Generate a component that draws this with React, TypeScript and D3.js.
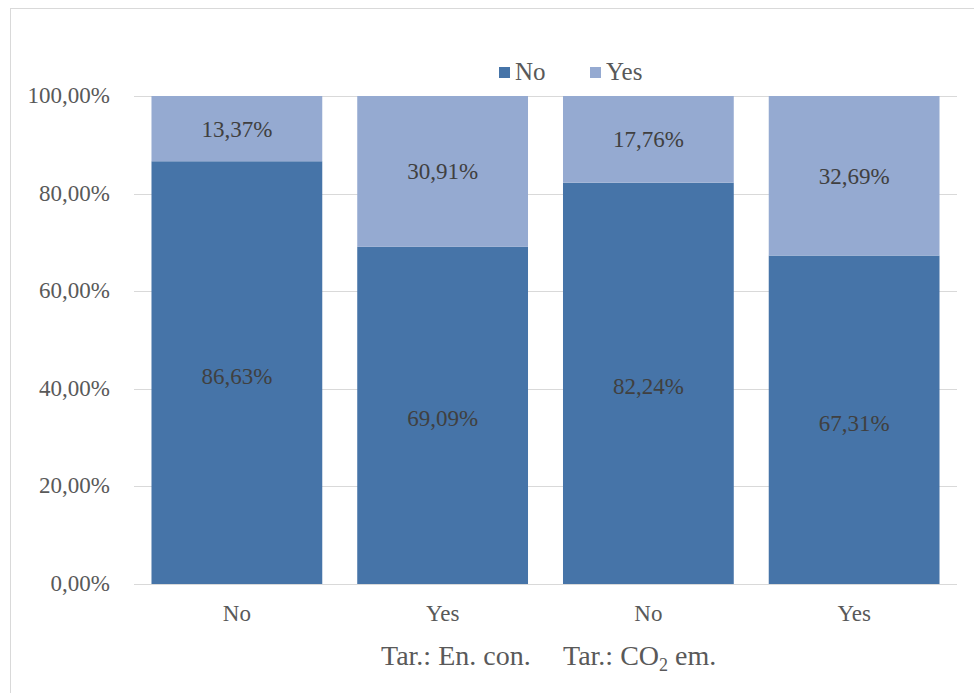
import * as d3 from "d3";
import { useEffect, useRef } from "react";

const categories = ["No", "Yes", "No", "Yes"];
const noValues = [86.63, 69.09, 82.24, 67.31];
const yesValues = [13.37, 30.91, 17.76, 32.69];
const yTicks = [0, 20, 40, 60, 80, 100];
const groupLabels = ["Tar.: En. con.", "Tar.: CO"];

const W = 974;
const H = 693;
const FONT = "'Liberation Serif', 'Times New Roman', serif";
const FS = 23;

const fmt = (v: number) => v.toFixed(2).replace(".", ",") + "%";

function App() {
  const ref = useRef<SVGSVGElement>(null);

  useEffect(() => {
    const svg = d3.select(ref.current);
    svg.selectAll("*").remove();

    const margin = { left: 134, right: 17, top: 96, bottom: 109 };

    // chart frame
    svg.append("rect")
      .attr("x", 10.5).attr("y", 8.5)
      .attr("width", W - 10).attr("height", H - 8)
      .attr("fill", "#fff").attr("stroke", "#d9d9d9");

    const x = d3.scaleBand<number>()
      .domain(categories.map((_, i) => i))
      .range([margin.left, W - margin.right])
      .paddingInner(0.17)
      .paddingOuter(0.085);

    const y = d3.scaleLinear().domain([0, 100]).range([H - margin.bottom, margin.top]);

    const g = svg.append("g");

    g.selectAll("line.grid")
      .data(yTicks)
      .enter()
      .append("line")
      .attr("x1", margin.left).attr("x2", W - margin.right)
      .attr("y1", (d) => Math.round(y(d)) + 0.5).attr("y2", (d) => Math.round(y(d)) + 0.5)
      .attr("stroke", "#d9d9d9").attr("stroke-width", 1);

    g.selectAll("text.ytick")
      .data(yTicks)
      .enter()
      .append("text")
      .attr("x", 110)
      .attr("y", (d) => y(d) + 7)
      .attr("text-anchor", "end")
      .attr("font-family", FONT).attr("font-size", FS).attr("fill", "#595959")
      .text((d) => d.toFixed(2).replace(".", ",") + "%");

    const stacked = categories.map((_, i) => ({ i, no: noValues[i], yes: yesValues[i] }));

    // No segment
    g.selectAll("rect.no")
      .data(stacked)
      .enter()
      .append("rect")
      .attr("x", (d) => x(d.i)!)
      .attr("width", x.bandwidth())
      .attr("y", (d) => y(d.no))
      .attr("height", (d) => y(0) - y(d.no))
      .attr("fill", "#4674a8");

    // Yes segment
    g.selectAll("rect.yes")
      .data(stacked)
      .enter()
      .append("rect")
      .attr("x", (d) => x(d.i)!)
      .attr("width", x.bandwidth())
      .attr("y", (d) => y(d.no + d.yes))
      .attr("height", (d) => y(d.no) - y(d.no + d.yes))
      .attr("fill", "#95aad1");

    const labelStyle = (sel: any) =>
      sel.attr("text-anchor", "middle")
        .attr("font-family", FONT).attr("font-size", FS).attr("fill", "#404040");

    g.selectAll("text.nolab")
      .data(stacked)
      .enter()
      .append("text")
      .attr("x", (d) => x(d.i)! + x.bandwidth() / 2)
      .attr("y", (d) => (y(0) + y(d.no)) / 2 + 11)
      .call(labelStyle)
      .text((d) => fmt(d.no));

    g.selectAll("text.yeslab")
      .data(stacked)
      .enter()
      .append("text")
      .attr("x", (d) => x(d.i)! + x.bandwidth() / 2)
      .attr("y", (d) => (y(d.no) + y(d.no + d.yes)) / 2 + 8)
      .call(labelStyle)
      .text((d) => fmt(d.yes));

    // x category labels
    g.selectAll("text.xcat")
      .data(categories)
      .enter()
      .append("text")
      .attr("x", (_, i) => x(i)! + x.bandwidth() / 2)
      .attr("y", 621)
      .attr("text-anchor", "middle")
      .attr("font-family", FONT).attr("font-size", FS).attr("fill", "#595959")
      .text((d) => d);

    // group labels
    g.append("text")
      .attr("x", 381).attr("y", 665)
      .attr("font-family", FONT).attr("font-size", 28).attr("fill", "#595959")
      .text(groupLabels[0]);
    const g2 = g.append("text")
      .attr("x", 563).attr("y", 665)
      .attr("font-family", FONT).attr("font-size", 28).attr("fill", "#595959");
    g2.append("tspan").text(groupLabels[1]);
    g2.append("tspan").attr("font-size", 18).attr("dy", 6).text("2");
    g2.append("tspan").attr("dy", -6).text(" em.");

    // legend
    const legend = [
      { name: "No", color: "#4674a8", x: 499 },
      { name: "Yes", color: "#95aad1", x: 590 },
    ];
    const lg = g.selectAll("g.leg").data(legend).enter().append("g");
    lg.append("rect")
      .attr("x", (d) => d.x).attr("y", 67)
      .attr("width", 11).attr("height", 11)
      .attr("fill", (d) => d.color);
    lg.append("text")
      .attr("x", (d) => d.x + 16).attr("y", 80)
      .attr("font-family", FONT).attr("font-size", 25).attr("fill", "#595959")
      .text((d) => d.name);
  }, []);

  return (
    <svg
      ref={ref}
      width={W}
      height={H}
      style={{ position: "absolute", left: 0, top: 0, display: "block" }}
    />
  );
}

export default App;
